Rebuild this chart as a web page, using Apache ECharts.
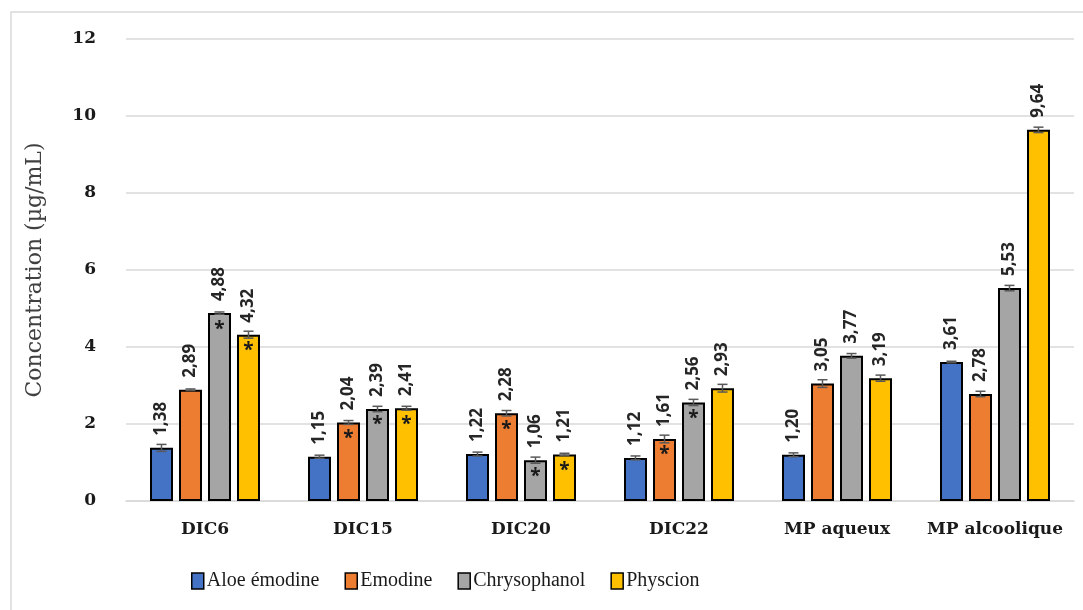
<!DOCTYPE html>
<html>
<head>
<meta charset="utf-8">
<script src="https://cdn.jsdelivr.net/npm/echarts@6/dist/echarts.min.js"></script>
<style>
  html, body { margin: 0; padding: 0; background: #fff; }
  #chart { width: 1083px; height: 610px; }
</style>
</head>
<body>
<div id="chart"></div>
<script>
var categories = ['DIC6', 'DIC15', 'DIC20', 'DIC22', 'MP aqueux', 'MP alcoolique'];
var seriesNames = ['Aloe émodine', 'Emodine', 'Chrysophanol', 'Physcion'];
var colors = ['#4472C4', '#ED7D31', '#A5A5A5', '#FFC000'];

var aloeEmodine = [1.38, 1.15, 1.22, 1.12, 1.20, 3.61];
var emodine = [2.89, 2.04, 2.28, 1.61, 3.05, 2.78];
var chrysophanol = [4.88, 2.39, 1.06, 2.56, 3.77, 5.53];
var physcion = [4.32, 2.41, 1.21, 2.93, 3.19, 9.64];

// erreurs (±)
var errAloe = [0.09, 0.04, 0.05, 0.05, 0.05, 0.02];
var errEmodine = [0.02, 0.05, 0.07, 0.10, 0.10, 0.07];
var errChryso = [0.03, 0.07, 0.08, 0.08, 0.06, 0.07];
var errPhyscion = [0.09, 0.05, 0.03, 0.10, 0.08, 0.07];

// significativité (*)
var starAloe = [0, 0, 0, 0, 0, 0];
var starEmodine = [0, 1, 1, 1, 0, 0];
var starChryso = [1, 1, 1, 1, 0, 0];
var starPhyscion = [1, 1, 1, 0, 0, 0];

var yTicks = { min: 0, max: 12, interval: 2 };

var values = [aloeEmodine, emodine, chrysophanol, physcion];
var errors = [errAloe, errEmodine, errChryso, errPhyscion];
var stars = [starAloe, starEmodine, starChryso, starPhyscion];

var BAR_W = 23, BAR_GAP = 6;

function fmt(v) { return v.toFixed(2).replace('.', ','); }

var series = [];
values.forEach(function (vals, s) {
    series.push({
        name: seriesNames[s],
        type: 'bar',
        barWidth: BAR_W,
        barGap: (BAR_GAP / BAR_W * 100) + '%',
        itemStyle: { color: colors[s], borderColor: '#000', borderWidth: 2 },
        label: {
            show: true,
            position: 'top',
            rotate: 90,
            align: 'left',
            verticalAlign: 'middle',
            distance: 12,
            fontFamily: 'Open Sans',
            fontWeight: 'bold',
            fontSize: 17,
            color: '#262626',
            formatter: function (p) { return fmt(p.value); }
        },
        data: vals
    });
});

values.forEach(function (vals, s) {
    var offset = (s - 1.5) * (BAR_W + BAR_GAP);
    series.push({
        type: 'custom',
        name: seriesNames[s] + '_err',
        z: 5,
        silent: true,
        data: vals.map(function (v, i) { return [i, v, errors[s][i], stars[s][i]]; }),
        renderItem: function (params, api) {
            var c = api.coord([api.value(0), api.value(1)]);
            var hi = api.coord([api.value(0), api.value(1) + api.value(2)]);
            var lo = api.coord([api.value(0), api.value(1) - api.value(2)]);
            var x = c[0] + offset;
            var st = { stroke: '#595959', lineWidth: 1.5 };
            var children = [
                { type: 'line', shape: { x1: x, y1: hi[1], x2: x, y2: lo[1] }, style: st },
                { type: 'line', shape: { x1: x - 5, y1: hi[1], x2: x + 5, y2: hi[1] }, style: st },
                { type: 'line', shape: { x1: x - 5, y1: lo[1], x2: x + 5, y2: lo[1] }, style: st }
            ];
            if (api.value(3)) {
                children.push({
                    type: 'text',
                    style: {
                        text: '*', x: x, y: c[1] + 16,
                        align: 'center', verticalAlign: 'middle',
                        font: 'bold 19px "Open Sans"', fill: '#1a1a1a'
                    }
                });
            }
            return { type: 'group', children: children };
        }
    });
});

var chart = echarts.init(document.getElementById('chart'));
chart.setOption({
    animation: false,
    graphic: [{
        type: 'rect',
        shape: { x: 11, y: 12, width: 1100, height: 620 },
        style: { fill: 'none', stroke: '#d9d9d9', lineWidth: 1.5 },
        silent: true
    }],
    grid: { left: 126, right: 9, top: 39, bottom: 109 },
    legend: {
        data: seriesNames.map(function (n) { return { name: n, icon: 'rect' }; }),
        left: 186,
        top: 566,
        itemWidth: 12,
        itemHeight: 16,
        itemGap: 25,
        itemStyle: { borderColor: '#000', borderWidth: 1.5 },
        textStyle: { fontFamily: 'Liberation Serif', fontSize: 20, color: '#1a1a1a', padding: [0, 0, 0, -2] }
    },
    xAxis: {
        type: 'category',
        data: categories,
        axisLine: { lineStyle: { color: '#d9d9d9', width: 1.5 } },
        axisTick: { show: false },
        axisLabel: {
            interval: 0,
            margin: 20,
            fontFamily: 'DejaVu Serif',
            fontWeight: 'bold',
            fontSize: 17,
            color: '#1a1a1a'
        }
    },
    yAxis: {
        type: 'value',
        min: yTicks.min,
        max: yTicks.max,
        interval: yTicks.interval,
        name: 'Concentration (µg/mL)',
        nameLocation: 'middle',
        nameGap: 80,
        nameTextStyle: { fontFamily: 'DejaVu Serif', fontSize: 22, color: '#404040' },
        axisLine: { show: false },
        axisTick: { show: false },
        splitLine: { lineStyle: { color: '#d9d9d9', width: 1.5 } },
        axisLabel: {
            margin: 30,
            fontFamily: 'DejaVu Serif',
            fontWeight: 'bold',
            fontSize: 17,
            color: '#1a1a1a'
        }
    },
    series: series
});
</script>
</body>
</html>
